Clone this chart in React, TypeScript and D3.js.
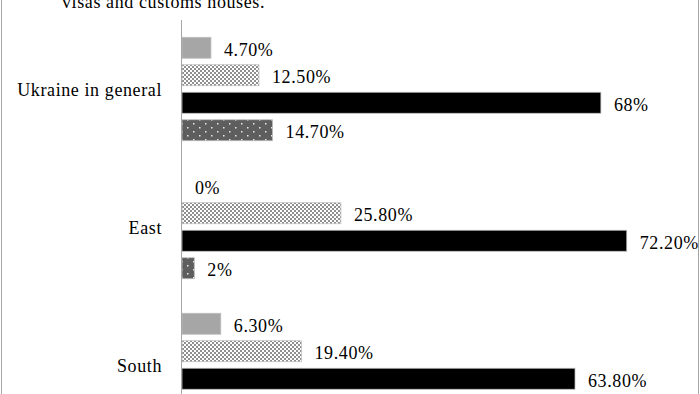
import { useEffect, useRef } from 'react';
import * as d3 from 'd3';

const categories = ['Ukraine in general', 'East', 'South'];
const series = ['s1', 's2', 's3', 's4'];
const values = [
  [4.7, 12.5, 68, 14.7],
  [0, 25.8, 72.2, 2],
  [6.3, 19.4, 63.8, 10.5],
];
const valueLabels = [
  ['4.70%', '12.50%', '68%', '14.70%'],
  ['0%', '25.80%', '72.20%', '2%'],
  ['6.30%', '19.40%', '63.80%', '10.50%'],
];
const fills = ['#a6a6a6', 'url(#checker)', '#000000', 'url(#dots)'];

const App = () => {
  const ref = useRef<SVGSVGElement>(null!);

  useEffect(() => {
    const width = 700;
    const height = 394;
    const font = '"Liberation Serif", "DejaVu Serif", serif';
    const fontSize = 18;
    const spacing = 0.6;
    const svg = d3.select(ref.current);
    svg.selectAll('*').remove();

    const defs = svg.append('defs');
    const checker = defs
      .append('pattern')
      .attr('id', 'checker')
      .attr('patternUnits', 'userSpaceOnUse')
      .attr('width', 4)
      .attr('height', 4);
    checker.append('rect').attr('width', 4).attr('height', 4).attr('fill', '#ffffff');
    checker.append('rect').attr('width', 2).attr('height', 2).attr('fill', '#8f8f8f');
    checker.append('rect').attr('x', 2).attr('y', 2).attr('width', 2).attr('height', 2).attr('fill', '#8f8f8f');

    const dots = defs
      .append('pattern')
      .attr('id', 'dots')
      .attr('patternUnits', 'userSpaceOnUse')
      .attr('width', 12)
      .attr('height', 8);
    dots.append('rect').attr('width', 12).attr('height', 8).attr('fill', '#5e5e5e');
    dots.append('rect').attr('x', 1).attr('y', 1).attr('width', 1.5).attr('height', 1.5).attr('fill', '#e8e8e8');
    dots.append('rect').attr('x', 7).attr('y', 5).attr('width', 1.5).attr('height', 1.5).attr('fill', '#e8e8e8');

    svg.append('rect').attr('width', width).attr('height', height).attr('fill', '#ffffff');

    // chart border (top is cut off)
    svg
      .append('rect')
      .attr('x', 1.5)
      .attr('y', -50)
      .attr('width', 697)
      .attr('height', 600)
      .attr('fill', 'none')
      .attr('stroke', '#a6a6a6')
      .attr('stroke-width', 1);

    svg
      .append('text')
      .attr('x', 62)
      .attr('y', 8)
      .attr('font-family', font)
      .attr('font-size', fontSize)
      .attr('letter-spacing', spacing)
      .attr('fill', '#000')
      .text('visas and customs houses.');

    const x = d3.scaleLinear().domain([0, 100]).range([182, 798]);
    const y0 = d3
      .scaleBand()
      .domain(categories)
      .range([20, 20 + 138 * categories.length])
      .paddingInner(0.203)
      .paddingOuter(0.1015);
    const y1 = d3
      .scaleBand()
      .domain(series)
      .range([0, y0.bandwidth()])
      .paddingInner(0.236)
      .paddingOuter(0.118);

    const groups = svg
      .selectAll('g.group')
      .data(categories)
      .enter()
      .append('g')
      .attr('class', 'group')
      .attr('transform', d => `translate(0,${y0(d)})`);

    groups
      .selectAll('rect')
      .data((_, i) => values[i].map((v, j) => ({ v, j })))
      .enter()
      .filter(d => d.v > 0)
      .append('rect')
      .attr('x', x(0))
      .attr('y', d => y1(series[d.j])!)
      .attr('width', d => x(d.v) - x(0))
      .attr('height', y1.bandwidth())
      .attr('fill', d => fills[d.j])
      .attr('stroke', '#bfbfbf')
      .attr('stroke-width', 0.75);

    groups
      .selectAll('text.val')
      .data((_, i) => values[i].map((v, j) => ({ v, j, label: valueLabels[i][j] })))
      .enter()
      .append('text')
      .attr('class', 'val')
      .attr('x', d => x(d.v) + 13)
      .attr('y', d => y1(series[d.j])! + y1.bandwidth() / 2 + 8)
      .attr('font-family', font)
      .attr('font-size', fontSize)
      .attr('letter-spacing', spacing)
      .attr('fill', '#000')
      .text(d => d.label);

    groups
      .append('text')
      .attr('x', 162)
      .attr('y', y0.bandwidth() / 2 + 7.5)
      .attr('text-anchor', 'end')
      .attr('font-family', font)
      .attr('font-size', fontSize)
      .attr('letter-spacing', spacing)
      .attr('fill', '#000')
      .text(d => d);

    // category axis line
    svg
      .append('line')
      .attr('x1', 181.5)
      .attr('x2', 181.5)
      .attr('y1', 20)
      .attr('y2', height)
      .attr('stroke', '#a6a6a6')
      .attr('stroke-width', 1);
  }, []);

  return (
    <svg
      ref={ref}
      width={700}
      height={394}
      style={{ position: 'absolute', left: 0, top: 0, display: 'block' }}
    ></svg>
  );
};

export default App;
